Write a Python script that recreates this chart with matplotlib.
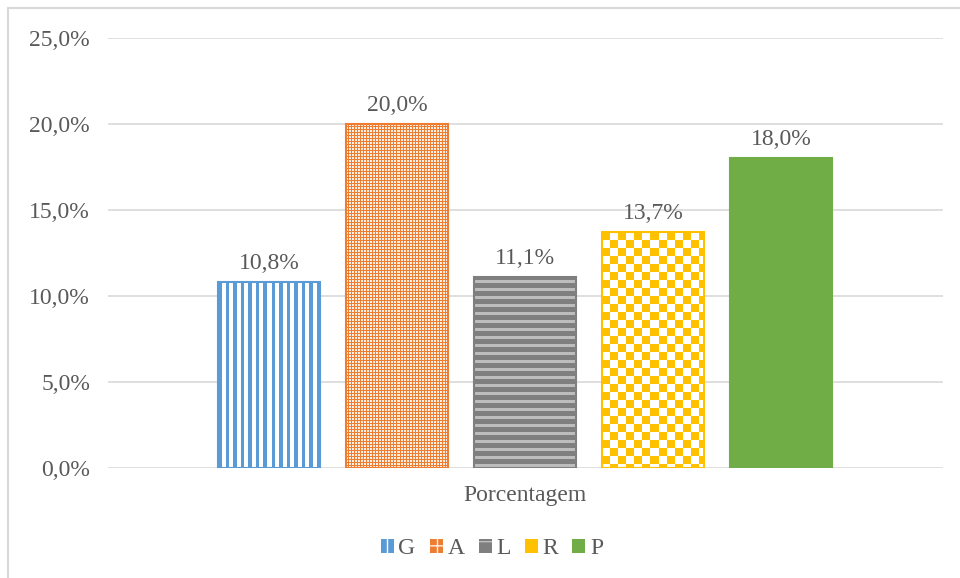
import numpy as np
import matplotlib
matplotlib.use('Agg')
import matplotlib.pyplot as plt
from matplotlib.patches import Rectangle, Patch
from matplotlib.colors import to_rgb

plt.rcParams['font.family'] = ['Liberation Serif', 'DejaVu Serif']

# ---- data ----
series = ['G', 'A', 'L', 'R', 'P']
values = [10.8, 20.0, 11.1, 13.7, 18.0]
category = 'Porcentagem'
yticks = [0, 5, 10, 15, 20, 25]

# ---- styles ----
colors = ['#5B9BD5', '#ED7D31', '#7F7F7F', '#FFC000', '#70AD47']
kinds = ['vstripe', 'dots', 'hstripe', 'checker', 'solid']
txt = '#595959'
grid = '#D9D9D9'
FS = 17

fig = plt.figure(figsize=(9.6, 5.78), dpi=100)
ax = fig.add_axes([108 / 960, 1 - 468 / 578, (943 - 108) / 960, (468 - 38) / 578])

x = np.arange(len(series))
bars = ax.bar(x, values, width=0.8, facecolor='none', edgecolor=colors,
              linewidth=1.5, zorder=3)
xlim = (2 - 417 / 128, 2 + 418 / 128)
ax.set_xlim(*xlim)
ax.set_ylim(0, 25)


def pattern(kind, w, h, color):
    yy, xx = np.mgrid[0:h, 0:w]
    c = np.array(to_rgb(color))
    white = np.ones(3)
    arr = np.ones((h, w, 3))
    if kind == 'vstripe':
        mask = ((xx * 2) % 15) < 7
        arr[mask] = c
    elif kind == 'dots':
        arr[:] = c
        mask = ((xx % 3) < 2) & ((yy % 3) < 2)
        arr[mask] = np.array(to_rgb('#FDEEE4'))
    elif kind == 'hstripe':
        arr[:] = c
        mask = ((yy % 8) >= 3) & ((yy % 8) < 6)
        arr[mask] = np.array(to_rgb('#BDBDBD'))
    elif kind == 'checker':
        mask = ((xx // 8 + yy // 8) % 2) == 0
        arr[mask] = c
        arr[~mask] = white
    else:
        arr[:] = c
    return arr


for b, k, c in zip(bars, kinds, colors):
    ext = b.get_window_extent()
    w = max(int(round(ext.width)), 1)
    h = max(int(round(ext.height)), 1)
    arr = pattern(k, w, h, c)
    ax.imshow(arr, extent=(b.get_x(), b.get_x() + b.get_width(), 0, b.get_height()),
              aspect='auto', interpolation='nearest', origin='upper', zorder=2)

ax.set_xlim(*xlim)
ax.set_ylim(0, 25)

for b, v in zip(bars, values):
    ax.annotate(f'{v:.1f}%'.replace('.', ','), (b.get_x() + b.get_width() / 2, v),
                xytext=(0, 6), textcoords='offset points', ha='center', va='bottom',
                fontsize=FS, color=txt)

ax.set_yticks(yticks)
ax.set_yticklabels([f'{t:.1f}%'.replace('.', ',') for t in yticks])
ax.set_xticks([2])
ax.set_xticklabels([category])
ax.tick_params(axis='both', length=0, labelsize=FS, labelcolor=txt)
ax.tick_params(axis='y', pad=13)
ax.tick_params(axis='x', pad=12)
for s in ax.spines.values():
    s.set_visible(False)
ax.yaxis.grid(True, color=grid, linewidth=1.2)
ax.set_axisbelow(True)

handles = [
    Patch(facecolor=colors[0], edgecolor='white', hatch='||', linewidth=0),
    Patch(facecolor=colors[1], edgecolor='#FDEEE4', hatch='++', linewidth=0),
    Patch(facecolor=colors[2], edgecolor='#BDBDBD', hatch='-', linewidth=0),
    Patch(facecolor=colors[3], edgecolor='white', hatch='', linewidth=0),
    Patch(facecolor=colors[4], edgecolor=colors[4], linewidth=0),
]
fig.legend(handles, series, loc='center', bbox_to_anchor=(492 / 960, 1 - 549 / 578),
           ncol=5, frameon=False, fontsize=FS, labelcolor=txt,
           handlelength=0.55, handleheight=0.55, handletextpad=0.2,
           columnspacing=0.6)

fig.add_artist(Rectangle((8 / 960, -0.1), 2, 1 - 8 / 578 + 0.1,
                         transform=fig.transFigure, fill=False,
                         edgecolor='#D9D9D9', linewidth=1.5))

fig.savefig('out.png', dpi=100)
